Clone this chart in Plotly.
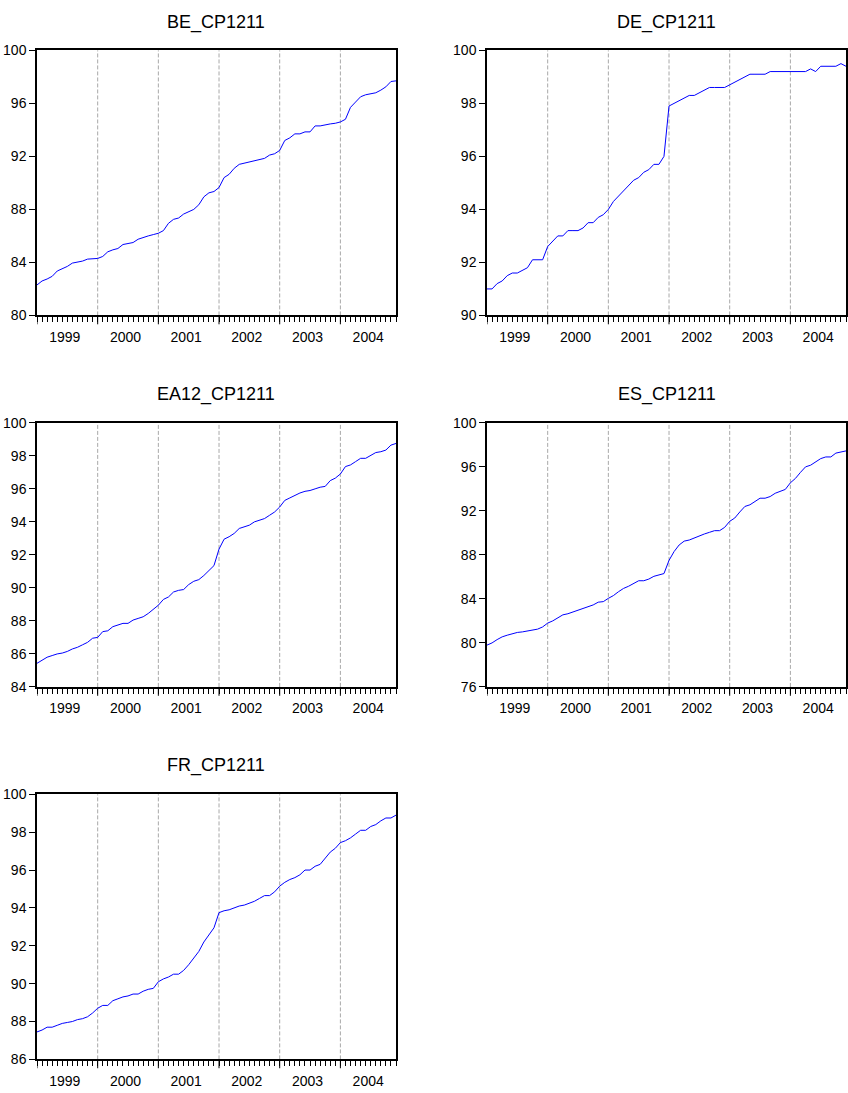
import plotly.graph_objects as go

years = [1999, 2000, 2001, 2002, 2003, 2004]
months = [f"{y}M{m:02d}" for y in years for m in range(1, 13)]

BE_CP1211 = [82.3, 82.6, 82.75, 82.95, 83.35, 83.5, 83.7, 83.95, 84.0, 84.1, 84.25, 84.3,
             84.3, 84.45, 84.8, 84.95, 85.05, 85.35, 85.45, 85.5, 85.75, 85.9, 86.0, 86.1,
             86.2, 86.4, 86.95, 87.25, 87.35, 87.65, 87.8, 88.0, 88.35, 88.95, 89.25, 89.35,
             89.65, 90.4, 90.65, 91.1, 91.4, 91.5, 91.6, 91.7, 91.75, 91.85, 92.1, 92.2,
             92.45, 93.2, 93.4, 93.7, 93.7, 93.85, 93.85, 94.3, 94.3, 94.4, 94.45, 94.5,
             94.6, 94.8, 95.7, 96.1, 96.5, 96.65, 96.75, 96.8, 97.0, 97.25, 97.65, 97.7]

DE_CP1211 = [91.0, 91.0, 91.2, 91.3, 91.5, 91.6, 91.6, 91.7, 91.8, 92.1, 92.1, 92.1,
             92.6, 92.8, 93.0, 93.0, 93.2, 93.2, 93.2, 93.3, 93.5, 93.5, 93.7, 93.8,
             94.0, 94.3, 94.5, 94.7, 94.9, 95.1, 95.2, 95.4, 95.5, 95.7, 95.7, 96.0,
             97.9, 98.0, 98.1, 98.2, 98.3, 98.3, 98.4, 98.5, 98.6, 98.6, 98.6, 98.6,
             98.7, 98.8, 98.9, 99.0, 99.1, 99.1, 99.1, 99.1, 99.2, 99.2, 99.2, 99.2,
             99.2, 99.2, 99.2, 99.2, 99.3, 99.2, 99.4, 99.4, 99.4, 99.4, 99.5, 99.4]

EA12_CP1211 = [85.43, 85.6, 85.8, 85.9, 86.0, 86.05, 86.15, 86.3, 86.4, 86.55, 86.7, 86.95,
               87.0, 87.35, 87.4, 87.65, 87.75, 87.85, 87.85, 88.05, 88.15, 88.25, 88.45, 88.7,
               88.95, 89.3, 89.45, 89.75, 89.85, 89.9, 90.2, 90.4, 90.5, 90.75, 91.05, 91.35,
               92.35, 92.95, 93.1, 93.3, 93.6, 93.7, 93.8, 94.0, 94.1, 94.2, 94.4, 94.6,
               94.9, 95.3, 95.45, 95.6, 95.75, 95.85, 95.9, 96.0, 96.1, 96.15, 96.5, 96.65,
               96.9, 97.35, 97.45, 97.65, 97.85, 97.85, 98.0, 98.2, 98.25, 98.35, 98.65, 98.75]

ES_CP1211 = [79.8, 80.0, 80.3, 80.55, 80.7, 80.85, 80.95, 81.0, 81.1, 81.15, 81.25, 81.45,
             81.8, 82.0, 82.3, 82.55, 82.65, 82.8, 82.95, 83.1, 83.3, 83.45, 83.7, 83.75,
             84.05, 84.3, 84.65, 84.95, 85.15, 85.4, 85.65, 85.65, 85.8, 86.05, 86.2, 86.3,
             87.5, 88.3, 88.9, 89.25, 89.35, 89.55, 89.75, 89.9, 90.05, 90.2, 90.2, 90.5,
             91.05, 91.35, 91.9, 92.4, 92.55, 92.85, 93.15, 93.15, 93.3, 93.6, 93.75, 93.95,
             94.55, 94.95, 95.5, 96.0, 96.15, 96.45, 96.75, 96.9, 96.9, 97.25, 97.35, 97.45]

FR_CP1211 = [87.45, 87.55, 87.7, 87.7, 87.8, 87.9, 87.95, 88.0, 88.1, 88.15, 88.25, 88.45,
             88.7, 88.85, 88.85, 89.1, 89.2, 89.3, 89.35, 89.45, 89.45, 89.6, 89.7, 89.75,
             90.1, 90.25, 90.35, 90.5, 90.5, 90.7, 91.0, 91.35, 91.7, 92.2, 92.6, 92.95,
             93.75, 93.85, 93.9, 94.0, 94.1, 94.15, 94.25, 94.35, 94.5, 94.65, 94.65, 94.85,
             95.15, 95.35, 95.5, 95.6, 95.75, 96.0, 96.0, 96.2, 96.3, 96.6, 96.95, 97.15,
             97.45, 97.55, 97.7, 97.9, 98.1, 98.1, 98.3, 98.4, 98.6, 98.75, 98.75, 98.9]

panels = [
    ("BE_CP1211", BE_CP1211, [80, 84, 88, 92, 96, 100]),
    ("DE_CP1211", DE_CP1211, [90, 92, 94, 96, 98, 100]),
    ("EA12_CP1211", EA12_CP1211, [84, 86, 88, 90, 92, 94, 96, 98, 100]),
    ("ES_CP1211", ES_CP1211, [76, 80, 84, 88, 92, 96, 100]),
    ("FR_CP1211", FR_CP1211, [86, 88, 90, 92, 94, 96, 98, 100]),
]

W, H = 848, 1093
col_x = [(37, 396), (487, 846)]
row_y = [(43, 312), (421, 689), (798, 1067)]
title_y = [15, 392, 769]

FONT = "Arial, Liberation Sans, sans-serif"
x_idx = list(range(len(months)))
year_start = [months.index(f"{y}M01") for y in years]
year_mid = [s + 5.5 for s in year_start]

fig = go.Figure()
shapes = []
annotations = []
layout = {}

for i, (name, vals, yticks) in enumerate(panels):
    r, c = divmod(i, 2)
    n = i + 1
    xs = "" if n == 1 else str(n)
    x0p, x1p = col_x[c]
    y0p, y1p = row_y[r]
    fig.add_trace(go.Scatter(x=x_idx, y=vals, mode="lines",
                             line=dict(color="#0000ff", width=1),
                             xaxis="x" + xs, yaxis="y" + xs, showlegend=False,
                             hoverinfo="skip"))
    layout["xaxis" + xs] = dict(
        domain=[x0p / W, x1p / W], anchor="y" + xs,
        range=[0, len(months) - 1], showgrid=False, zeroline=False,
        showline=True, mirror=True, linecolor="black", linewidth=1.5,
        tickmode="array", tickvals=year_mid, ticktext=[str(y) for y in years],
        ticks="outside", ticklen=8, tickcolor="rgba(0,0,0,0)",
        tickfont=dict(family=FONT, size=14, color="black"),
        minor=dict(tickmode="array", tickvals=x_idx, ticks="outside",
                   ticklen=5, tickcolor="black", tickwidth=1, showgrid=False),
        fixedrange=True,
    )
    layout["yaxis" + xs] = dict(
        domain=[1 - y1p / H, 1 - y0p / H], anchor="x" + xs,
        range=[yticks[0], yticks[-1]], showgrid=False, zeroline=False,
        showline=True, mirror=True, linecolor="black", linewidth=1.5,
        tickmode="array", tickvals=yticks, ticktext=[str(t) for t in yticks],
        ticks="outside", ticklen=6, tickcolor="black", tickwidth=1,
        tickfont=dict(family=FONT, size=14, color="black"),
        fixedrange=True,
    )
    for s in year_start[1:]:
        shapes.append(dict(type="line", xref="x" + xs, yref="y" + xs + " domain",
                           x0=s, x1=s, y0=0, y1=1,
                           line=dict(color="#a8a8a8", width=1, dash="4px,2px"),
                           layer="below"))
    for s in year_start:
        shapes.append(dict(type="line", xref="x" + xs, yref="y" + xs + " domain",
                           x0=s, x1=s, y0=0, y1=-9 / (y1p - y0p),
                           line=dict(color="black", width=1)))
    annotations.append(dict(text=name, xref="paper", yref="paper",
                            x=(x0p + x1p) / 2 / W, y=1 - title_y[r] / H,
                            xanchor="center", yanchor="middle", showarrow=False,
                            font=dict(family=FONT, size=18, color="black")))

fig.update_layout(
    width=W, height=H, margin=dict(l=0, r=0, t=0, b=0),
    paper_bgcolor="white", plot_bgcolor="white",
    shapes=shapes, annotations=annotations, **layout,
)

js = ("document.documentElement.style.margin='0';"
      "document.documentElement.style.overflow='hidden';"
      "document.body.style.margin='0';document.body.style.overflow='hidden';"
      "var d=document.getElementById('{plot_id}');"
      "d.style.position='fixed';d.style.left='0px';d.style.top='0px';")

fig.write_html("out.html", include_plotlyjs=True, config={"displayModeBar": False},
               post_script=js)
